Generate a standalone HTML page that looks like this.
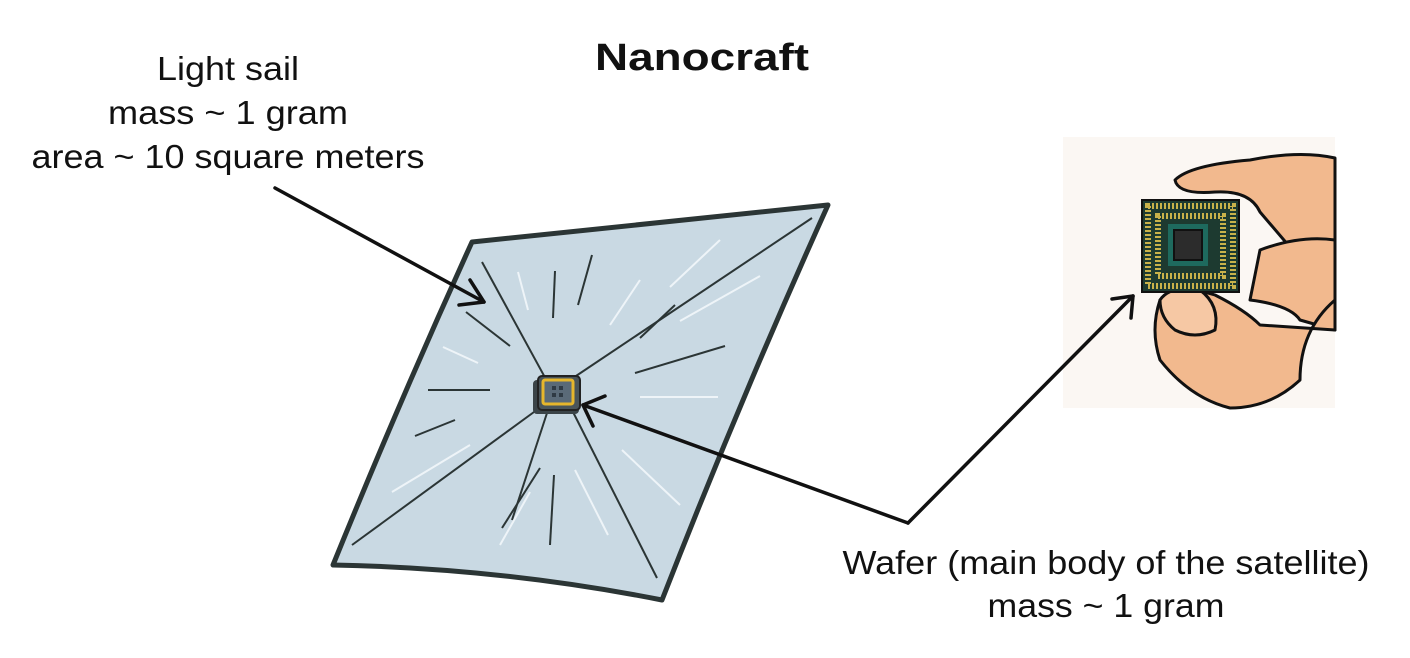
<!DOCTYPE html>
<html><head><meta charset="utf-8"><style>
html,body{margin:0;padding:0;background:#fff;}
svg{display:block;}
text{font-family:"Liberation Sans",Arial,sans-serif;fill:#111;}
</style></head><body>
<svg width="1410" height="658" viewBox="0 0 1410 658" xmlns="http://www.w3.org/2000/svg">
<rect width="1410" height="658" fill="#fff"/>
<text x="702" y="70" font-size="38" font-weight="bold" text-anchor="middle" textLength="214" lengthAdjust="spacingAndGlyphs">Nanocraft</text>
<text x="228" y="80" font-size="33" text-anchor="middle" textLength="142" lengthAdjust="spacingAndGlyphs">Light sail</text>
<text x="228" y="124" font-size="33" text-anchor="middle" textLength="240" lengthAdjust="spacingAndGlyphs">mass ~ 1 gram</text>
<text x="228" y="168" font-size="33" text-anchor="middle" textLength="393" lengthAdjust="spacingAndGlyphs">area ~ 10 square meters</text>
<text x="1106" y="574" font-size="33" text-anchor="middle" textLength="527" lengthAdjust="spacingAndGlyphs">Wafer (main body of the satellite)</text>
<text x="1106" y="617" font-size="33" text-anchor="middle" textLength="237" lengthAdjust="spacingAndGlyphs">mass ~ 1 gram</text>

<!-- sail -->
<path d="M472,242 L828,205 Q740,400 662,600 Q500,568 333,565 Q400,400 472,242 Z" fill="#c9d9e3" stroke="#2b3535" stroke-width="5" stroke-linejoin="round"/>
<g stroke="#2b3535" stroke-width="2" fill="none">
<line x1="548" y1="383" x2="482" y2="262"/>
<line x1="570" y1="380" x2="812" y2="218"/>
<line x1="572" y1="410" x2="657" y2="578"/>
<line x1="534" y1="412" x2="352" y2="545"/>
<line x1="547" y1="413" x2="512" y2="520"/>
<line x1="510" y1="346" x2="466" y2="312"/>
<line x1="490" y1="390" x2="428" y2="390"/>
<line x1="455" y1="420" x2="415" y2="436"/>
<line x1="578" y1="305" x2="592" y2="255"/>
<line x1="553" y1="318" x2="555" y2="271"/>
<line x1="640" y1="338" x2="675" y2="305"/>
<line x1="635" y1="373" x2="725" y2="346"/>
<line x1="540" y1="468" x2="502" y2="528"/>
<line x1="554" y1="475" x2="550" y2="545"/>
</g>
<g stroke="#eef4f8" stroke-width="2" fill="none">
<line x1="528" y1="310" x2="518" y2="272"/>
<line x1="670" y1="287" x2="720" y2="240"/>
<line x1="680" y1="321" x2="760" y2="276"/>
<line x1="640" y1="397" x2="718" y2="397"/>
<line x1="622" y1="450" x2="680" y2="505"/>
<line x1="575" y1="470" x2="608" y2="535"/>
<line x1="530" y1="492" x2="500" y2="545"/>
<line x1="470" y1="445" x2="392" y2="492"/>
<line x1="478" y1="363" x2="443" y2="347"/>
<line x1="610" y1="325" x2="640" y2="280"/>
</g>
<!-- chip -->
<rect x="533" y="380" width="46" height="34" rx="4" fill="#3b4448"/>
<rect x="538" y="376" width="42" height="34" rx="4" fill="#4a555a" stroke="#222" stroke-width="2"/>
<rect x="543" y="380" width="30" height="24" rx="2" fill="#5a6a78" stroke="#e6b62c" stroke-width="3"/>
<g fill="#2f3a44"><rect x="552" y="386" width="4" height="4"/><rect x="559" y="386" width="4" height="4"/><rect x="552" y="393" width="4" height="4"/><rect x="559" y="393" width="4" height="4"/></g>

<!-- hand panel -->
<rect x="1063" y="137" width="272" height="271" fill="#fbf7f3"/>
<g stroke="#111" stroke-width="3" fill="#f2b98e" stroke-linejoin="round">
<path d="M1335,158 Q1300,150 1250,160 Q1190,165 1175,180 Q1178,195 1215,192 Q1250,190 1260,212 L1335,300 Z"/>
<path d="M1335,240 Q1300,235 1260,250 L1250,300 Q1290,305 1300,320 L1335,330 Z"/>
<path d="M1335,300 Q1300,330 1300,380 Q1270,408 1230,408 Q1190,398 1160,360 Q1150,330 1160,300 Q1185,285 1215,295 Q1245,310 1260,325 L1335,330 Z"/>
<path d="M1160,300 Q1170,285 1200,290 Q1220,305 1215,330 Q1195,340 1175,330 Q1160,318 1160,300 Z" fill="#f6c8a4"/>
</g>
<rect x="1142" y="200" width="97" height="92" fill="#1d3a30" stroke="#111" stroke-width="2"/>
<rect x="1148" y="206" width="85" height="80" fill="none" stroke="#c9b24a" stroke-width="6" stroke-dasharray="2 2"/>
<rect x="1158" y="216" width="65" height="60" fill="none" stroke="#c9b24a" stroke-width="6" stroke-dasharray="2 2"/>
<rect x="1168" y="224" width="40" height="42" fill="#1e6a5e"/>
<rect x="1174" y="230" width="28" height="30" fill="#2c2c2c" stroke="#111" stroke-width="2"/>

<!-- arrows -->
<g stroke="#111" stroke-width="3.5" fill="none" stroke-linecap="round" stroke-linejoin="round">
<line x1="275" y1="188" x2="484" y2="302"/>
<polyline points="470,280 484,302 459,305"/>
<polyline points="908,523 583,405"/>
<polyline points="593,426 583,405 605,396"/>
<line x1="908" y1="523" x2="1133" y2="296"/>
<polyline points="1112,299 1133,296 1131,318"/>
</g>
</svg>
</body></html>
